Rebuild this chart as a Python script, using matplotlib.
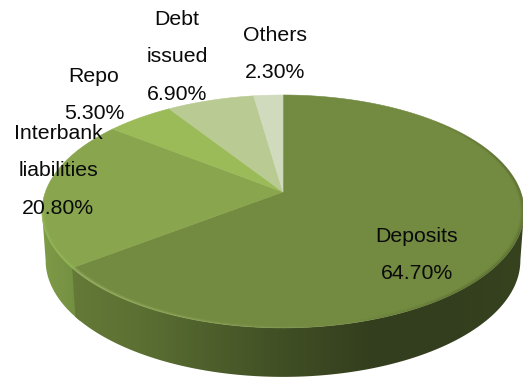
from matplotlib import pyplot as plt
from matplotlib.collections import LineCollection
from matplotlib.colors import LinearSegmentedColormap
from matplotlib.patches import Polygon
import numpy as np

labels = ["Deposits", "Interbank\nliabilities", "Repo", "Debt\nissued", "Others"]
shares = [64.7, 20.8, 5.3, 6.9, 2.3]
colors = ["#738a41", "#89a54e", "#9bbb59", "#b9ca93", "#d0dabd"]
label_x = [417, 58, 94, 177, 275]
label_y = [255, 171, 95, 57, 54]

# pie drawn in pixel-like coordinates, tilted with a small perspective
CX, CY = 283, 192
RX, RY = 237.6, 113.2
PERSP = 0.167
DEPTH = 49


def project(theta, scale=1.0):
    # theta in degrees, clockwise from 12 o'clock
    t = np.radians(theta)
    u, v = scale * np.sin(t), scale * np.cos(t)
    w = 1 + PERSP * v
    return CX + RX * u / w, CY - RY * v / w


def lower(theta):
    x, y = project(theta)
    return CX + (x - CX) * 0.985, y + DEPTH


def side_poly(t0, t1):
    t = np.linspace(t0, t1, 200)
    xa, ya = project(t)
    xb, yb = lower(t)
    return np.r_[np.c_[xa, ya], np.c_[xb, yb][::-1]]


def gradient_side(ax, t0, t1, x0, x1, stops, z):
    cmap = LinearSegmentedColormap.from_list("side", stops)
    img = ax.imshow(np.linspace(0, 1, 256)[None, :], cmap=cmap, extent=[x0, x1, 378, 90],
                    aspect="auto", zorder=z)
    img.set_clip_path(Polygon(side_poly(t0, t1), transform=ax.transData))


def rim_line(ax, t0, t1, scale, width, rgb, alpha):
    # alpha is an array along the arc, so the bevel can fade out
    t = np.linspace(t0, t1, len(alpha) + 1)
    x, y = project(t, scale)
    pts = np.c_[x, y]
    segs = np.stack([pts[:-1], pts[1:]], axis=1)
    cols = [(*rgb, a) for a in alpha]
    ax.add_collection(LineCollection(segs, colors=cols, linewidths=width, capstyle="butt", zorder=3))


def soft_rim(ax, t0, t1, rgb, alpha):
    # stacked thin arcs give a blurred band just inside the edge
    for scale, k in zip([0.999, 0.995, 0.991, 0.987], [0.8, 0.6, 0.3, 0.12]):
        rim_line(ax, t0, t1, scale, 1.0, rgb, alpha * k)


fig = plt.figure(figsize=(5.23, 3.78), dpi=100)
ax = fig.add_axes([0, 0, 1, 1])
plt.rcParams["font.family"] = ["Liberation Sans", "DejaVu Sans"]

edges = np.r_[0, np.cumsum(shares)] * 3.6
split = edges[1]

grid = np.linspace(0, 360, 1441)
gx, _ = project(grid)
t_right = grid[np.argmax(gx)]
t_left = grid[np.argmin(gx)]

# side wall, light on the left and dark on the right
gradient_side(ax, split - 2, t_left, 40, 90, ["#7f9c48", "#6f8a3f"], 1)
gradient_side(ax, t_right, split, 60, 523,
              ["#667b38", "#5c7033", "#4d5e2b", "#3f4d24", "#343f1e", "#333e1e", "#37421f"], 1.1)

# top face
for i, share in enumerate(shares):
    t = np.linspace(edges[i], edges[i + 1], 300)
    x, y = project(t)
    pts = np.r_[[[CX, CY]], np.c_[x, y]]
    ax.add_patch(Polygon(pts, closed=True, facecolor=colors[i], edgecolor=colors[i], linewidth=0.4, zorder=2))

# soft darkening towards the outer edge on the right
n = 120
dark_fade = np.clip(np.sin(np.linspace(0, np.pi, n)) * 1.3, 0, 1)
soft_rim(ax, 45, 165, (0.33, 0.40, 0.18), 0.6 * dark_fade)

# bevel highlight along the front rim
light_fade = np.clip(np.linspace(0, 1, n) ** 1.3, 0, 1)
soft_rim(ax, 165, split, (0.66, 0.76, 0.44), 0.7 * light_fade)
soft_rim(ax, split, t_left, (0.60, 0.76, 0.36), np.full(n, 0.6))

for label, share, x, y in zip(labels, shares, label_x, label_y):
    ax.text(x, y, f"{label}\n{share:.2f}%", ha="center", va="center", ma="center", fontsize=15.3,
            linespacing=2.22, color="#0a0a0a", zorder=5)

ax.set_xlim(0, 523)
ax.set_ylim(378, 0)
ax.axis("off")
fig.savefig("out.png", dpi=100)
